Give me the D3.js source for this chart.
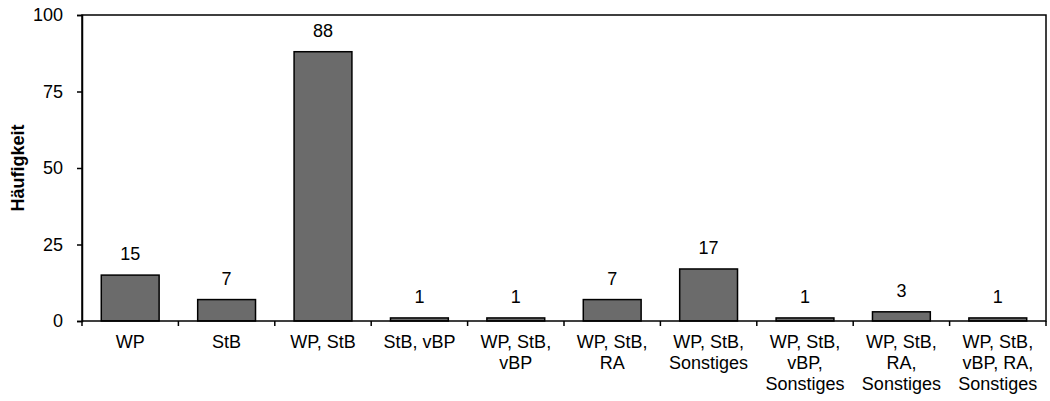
<!DOCTYPE html>
<html>
<head>
<meta charset="utf-8">
<script src="https://cdn.jsdelivr.net/npm/d3@7"></script>
<style>
  body { margin: 0; background: #fff; }
  text { font-family: "Liberation Sans", Arial, sans-serif; }
</style>
</head>
<body>
<div id="chart"></div>
<script>
const categories = [
  ["WP"],
  ["StB"],
  ["WP, StB"],
  ["StB, vBP"],
  ["WP, StB,", "vBP"],
  ["WP, StB,", "RA"],
  ["WP, StB,", "Sonstiges"],
  ["WP, StB,", "vBP,", "Sonstiges"],
  ["WP, StB,", "RA,", "Sonstiges"],
  ["WP, StB,", "vBP, RA,", "Sonstiges"]
];
const values = [15, 7, 88, 1, 1, 7, 17, 1, 3, 1];
const yTicks = [0, 25, 50, 75, 100];
const yLabel = "Häufigkeit";

const W = 1050, H = 401;
const margin = { left: 82, right: 4, top: 15, bottom: 80 };

const svg = d3.select("#chart").append("svg")
  .attr("width", W).attr("height", H);

const keys = categories.map((c, i) => i);

const x = d3.scaleBand()
  .domain(keys)
  .range([margin.left, W - margin.right])
  .paddingInner(0.4)
  .paddingOuter(0.2);

const y = d3.scaleLinear()
  .domain([0, 100])
  .range([H - margin.bottom, margin.top]);

// bars
svg.append("g")
  .selectAll("rect")
  .data(values)
  .join("rect")
  .attr("x", (d, i) => x(i))
  .attr("y", d => y(d))
  .attr("width", x.bandwidth())
  .attr("height", d => y(0) - y(d))
  .attr("fill", "#6b6b6b")
  .attr("stroke", "#000")
  .attr("stroke-width", 1.5);

// value labels
svg.append("g")
  .selectAll("text")
  .data(values)
  .join("text")
  .attr("x", (d, i) => x(i) + x.bandwidth() / 2)
  .attr("y", d => y(d) - 15)
  .attr("text-anchor", "middle")
  .style("font-size", "18px")
  .text(d => d);

// frame
svg.append("rect")
  .attr("x", margin.left)
  .attr("y", margin.top)
  .attr("width", W - margin.right - margin.left)
  .attr("height", y(0) - margin.top)
  .attr("fill", "none")
  .attr("stroke", "#000")
  .attr("stroke-width", 1.5);

// y axis
const yAxis = svg.append("g")
  .attr("transform", `translate(${margin.left},0)`)
  .call(d3.axisLeft(y).tickValues(yTicks).tickSize(5).tickPadding(14));
yAxis.select(".domain").attr("stroke-width", 1.5);
yAxis.selectAll(".tick line").attr("stroke-width", 1.5);
yAxis.selectAll("text").style("font-size", "18px").attr("fill", "#000");

// x axis: tick marks at band boundaries, below the axis
const bounds = keys.map(i => x(i) - x.step() * x.paddingInner() / 2);
bounds.push(W - margin.right);
svg.append("g")
  .selectAll("line")
  .data(bounds)
  .join("line")
  .attr("x1", d => d).attr("x2", d => d)
  .attr("y1", y(0)).attr("y2", y(0) + 5)
  .attr("stroke", "#000")
  .attr("stroke-width", 1.5);

// category labels
const lab = svg.append("g")
  .selectAll("text")
  .data(categories)
  .join("text")
  .attr("x", (d, i) => x(i) + x.bandwidth() / 2)
  .attr("y", y(0) + 27)
  .attr("text-anchor", "middle")
  .style("font-size", "18px");
lab.selectAll("tspan")
  .data(d => d)
  .join("tspan")
  .attr("x", function () { return this.parentNode.getAttribute("x"); })
  .attr("dy", (d, i) => i === 0 ? 0 : 21)
  .text(d => d);

// y label
svg.append("text")
  .attr("transform", `translate(24,${(margin.top + y(0)) / 2}) rotate(-90)`)
  .attr("text-anchor", "middle")
  .style("font-size", "18px")
  .style("font-weight", "bold")
  .text(yLabel);
</script>
</body>
</html>
